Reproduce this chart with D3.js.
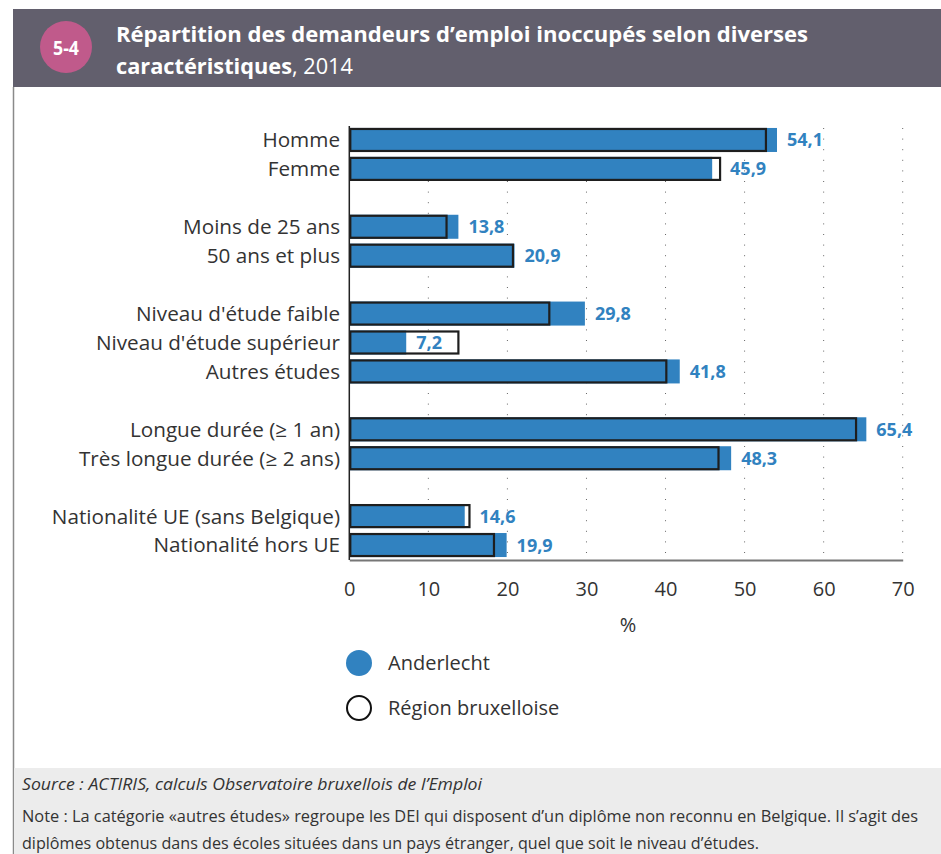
<!DOCTYPE html>
<html>
<head>
<meta charset="utf-8">
<script src="https://cdn.jsdelivr.net/npm/d3@7"></script>
<style>
  body { margin: 0; background: #fff; }
  text { font-family: "Open Sans", "Noto Sans", sans-serif; }
</style>
</head>
<body>
<svg id="chart" width="941" height="854"></svg>
<script>
// groups of categories, a blank row is put between two groups
const groups = [
    ["Homme", "Femme"],
    ["Moins de 25 ans", "50 ans et plus"],
    ["Niveau d'étude faible", "Niveau d'étude supérieur", "Autres études"],
    ["Longue durée (≥ 1 an)", "Très longue durée (≥ 2 ans)"],
    ["Nationalité UE (sans Belgique)", "Nationalité hors UE"]
];
const anderlecht = [54.1, 45.9, 13.8, 20.9, 29.8, 7.2, 41.8, 65.4, 48.3, 14.6, 19.9];
const region = [52.7, 46.9, 12.3, 20.7, 25.3, 13.8, 40.1, 64.1, 46.7, 15.2, 18.3];
const ticks = [0, 10, 20, 30, 40, 50, 60, 70];
const seriesNames = ["Anderlecht", "Région bruxelloise"];

const blue = "#3182c0";
const svg = d3.select("#chart");

// header band
svg.append("rect").attr("x", 13).attr("y", 9).attr("width", 928).attr("height", 78).attr("fill", "#625f6d");
svg.append("circle").attr("cx", 66).attr("cy", 47).attr("r", 26).attr("fill", "#c05a8b");
svg.append("text").attr("x", 66).attr("y", 55).attr("text-anchor", "middle")
    .attr("fill", "#fff").attr("font-weight", "bold").attr("font-size", 20)
    .attr("textLength", 26).attr("lengthAdjust", "spacingAndGlyphs").text("5-4");
svg.append("text").attr("x", 116).attr("y", 42).attr("fill", "#fff")
    .attr("font-weight", "bold").attr("font-size", 22)
    .attr("textLength", 692).attr("lengthAdjust", "spacingAndGlyphs")
    .text("Répartition des demandeurs d’emploi inoccupés selon diverses");
const title2 = svg.append("text").attr("x", 116).attr("y", 74).attr("fill", "#fff")
    .attr("font-size", 22)
    .attr("textLength", 237).attr("lengthAdjust", "spacingAndGlyphs");
title2.append("tspan").attr("font-weight", "bold").text("caractéristiques");
title2.append("tspan").text(", 2014");

// left border and footer
svg.append("line").attr("x1", 13.5).attr("x2", 13.5).attr("y1", 87).attr("y2", 854)
    .attr("stroke", "#8a8a8a").attr("stroke-width", 1.5);
svg.append("rect").attr("x", 14).attr("y", 768).attr("width", 927).attr("height", 86).attr("fill", "#ececec");
const foot = [
    {t: "Source : ACTIRIS, calculs Observatoire bruxellois de l’Emploi", y: 790, w: 460, it: true},
    {t: "Note : La catégorie «autres études» regroupe les DEI qui disposent d’un diplôme non reconnu en Belgique. Il s’agit des", y: 822, w: 896, it: false},
    {t: "diplômes obtenus dans des écoles situées dans un pays étranger, quel que soit le niveau d’études.", y: 849, w: 737, it: false}
];
svg.selectAll(".foot").data(foot).enter().append("text")
    .attr("class", "foot")
    .attr("x", 22).attr("y", d => d.y)
    .attr("font-size", 15.5).attr("fill", "#333")
    .attr("font-style", d => d.it ? "italic" : "normal")
    .attr("textLength", d => d.w).attr("lengthAdjust", "spacingAndGlyphs")
    .text(d => d.t);

// data rows
const categories = groups.flat();
const domain = [];
groups.forEach((g, i) => {
    if (i > 0) domain.push("gap" + i);
    g.forEach(c => domain.push(c));
});
const rows = categories.map((c, i) => ({name: c, a: anderlecht[i], r: region[i]}));

const x = d3.scaleLinear().domain([0, 70]).range([349.3, 902.7]);
const y = d3.scaleBand().domain(domain).range([125.5, 559.5])
    .paddingInner(0.17).paddingOuter(0.085);

// dotted grid
svg.append("g").selectAll("line").data(ticks.slice(1)).enter().append("line")
    .attr("x1", d => x(d)).attr("x2", d => x(d))
    .attr("y1", 128).attr("y2", 560)
    .attr("stroke", "#666").attr("stroke-width", 1)
    .attr("stroke-dasharray", "1,9.6");

// region bars (white background)
svg.append("g").selectAll("rect").data(rows).enter().append("rect")
    .attr("x", x(0)).attr("y", d => y(d.name))
    .attr("width", d => x(d.r) - x(0)).attr("height", y.bandwidth())
    .attr("fill", "#fff");

// Anderlecht bars
svg.append("g").selectAll("rect").data(rows).enter().append("rect")
    .attr("x", x(0)).attr("y", d => y(d.name))
    .attr("width", d => x(d.a) - x(0)).attr("height", y.bandwidth())
    .attr("fill", blue);

// region outline on top
svg.append("g").selectAll("rect").data(rows).enter().append("rect")
    .attr("x", x(0) + 1).attr("y", d => y(d.name) + 1)
    .attr("width", d => x(d.r) - x(0) - 1).attr("height", y.bandwidth() - 2)
    .attr("fill", "none").attr("stroke", "#1e1e1e").attr("stroke-width", 2.2);

// value labels
svg.append("g").selectAll("text").data(rows).enter().append("text")
    .attr("x", d => (d.r > d.a && d.r - d.a < 3 ? x(d.r) : x(d.a)) + 10)
    .attr("y", d => y(d.name) + y.bandwidth() / 2)
    .attr("dy", "0.36em")
    .attr("fill", blue).attr("font-weight", "bold").attr("font-size", 18)
    .text(d => d3.format(".1f")(d.a).replace(".", ","));

// category labels
svg.append("g").selectAll("text").data(rows).enter().append("text")
    .attr("x", 340).attr("y", d => y(d.name) + y.bandwidth() / 2)
    .attr("dy", "0.36em").attr("text-anchor", "end")
    .attr("fill", "#333").attr("font-size", 20.7)
    .text(d => d.name);

// axes
svg.append("line").attr("x1", x(0)).attr("x2", x(0)).attr("y1", 126).attr("y2", 560)
    .attr("stroke", "#222").attr("stroke-width", 1.5);
const xAxis = svg.append("g").attr("transform", "translate(0,560)")
    .call(d3.axisBottom(x).tickValues(ticks).tickSize(0).tickPadding(22));
xAxis.select(".domain").attr("stroke", "#777").attr("stroke-width", 2);
xAxis.selectAll("text").attr("font-size", 20).attr("fill", "#333")
    .attr("font-family", "'Open Sans', sans-serif");
svg.append("text").attr("x", 628).attr("y", 632).attr("text-anchor", "middle")
    .attr("font-size", 20).attr("fill", "#333").text("%");

// legend
const legend = svg.append("g").selectAll("g").data(seriesNames).enter().append("g")
    .attr("transform", (d, i) => "translate(359," + (663 + i * 45) + ")");
legend.append("circle").attr("r", (d, i) => i === 0 ? 13 : 12)
    .attr("fill", (d, i) => i === 0 ? blue : "#fff")
    .attr("stroke", (d, i) => i === 0 ? "none" : "#111")
    .attr("stroke-width", 2);
legend.append("text").attr("x", 29).attr("dy", "0.36em")
    .attr("font-size", 20).attr("fill", "#333").text(d => d);
</script>
</body>
</html>
